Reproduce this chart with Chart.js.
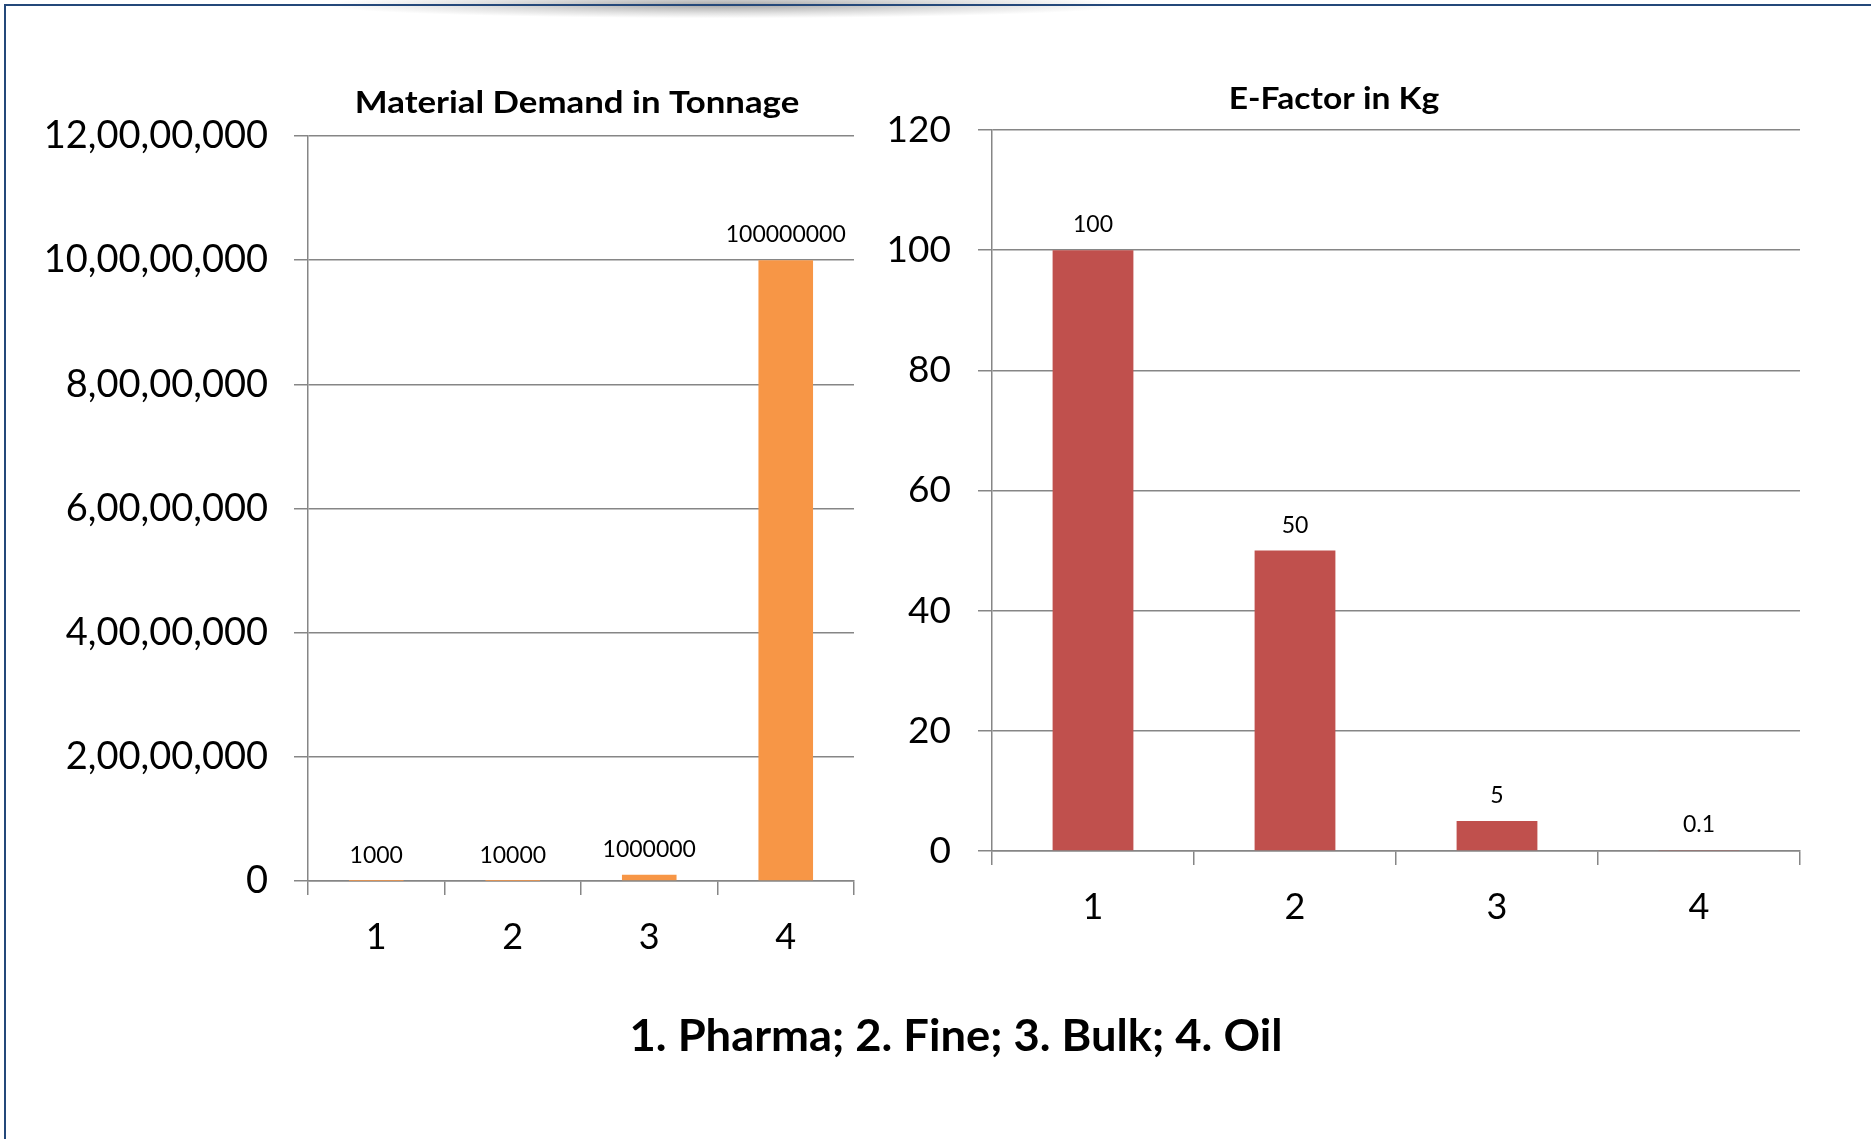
<!DOCTYPE html>
<html>
<head>
<meta charset="utf-8">
<title>Material Demand and E-Factor</title>
<script src="https://cdn.jsdelivr.net/npm/chart.js@4/dist/chart.umd.min.js"></script>
<style>
  html, body { margin: 0; padding: 0; background: #ffffff; }
  body { width: 1871px; height: 1139px; position: relative; overflow: hidden; }
  #shade {
    position: absolute; left: 330px; top: -8px; width: 790px; height: 26px;
    background: radial-gradient(ellipse at 50% 50%, rgba(60,60,60,0.45) 0%, rgba(90,90,90,0.18) 45%, rgba(255,255,255,0) 72%);
  }
  #frame {
    position: absolute; left: 4px; top: 4px; right: 0; bottom: 0;
    border-top: 2px solid #24487a; border-left: 2px solid #24487a;
  }
  canvas { position: absolute; left: 0; top: 0; }
</style>
</head>
<body>
<div id="shade"></div>
<div id="frame"></div>
<canvas id="demand" width="1871" height="1139"></canvas>
<canvas id="efactor" width="1871" height="1139"></canvas>
<script>
// Sectors: 1. Pharma; 2. Fine; 3. Bulk; 4. Oil
const categories = ['1', '2', '3', '4'];

// Material demand in tonnage per sector
const demandTonnage = [1000, 10000, 1000000, 100000000];
// E-factor (kg waste per kg product) per sector
const eFactorKg = [100, 50, 5, 0.1];

// Left axis labels, Indian digit grouping
const demandTickLabels = ['0', '2,00,00,000', '4,00,00,000', '6,00,00,000', '8,00,00,000', '10,00,00,000', '12,00,00,000'];
const eFactorTickLabels = ['0', '20', '40', '60', '80', '100', '120'];

const demandTitle = 'Material Demand in Tonnage';
const eFactorTitle = 'E-Factor in Kg';
const sectorCaption = '1. Pharma; 2. Fine; 3. Bulk; 4. Oil';

const FONT = 'Lato, "Open Sans", sans-serif';
const GRID = '#868686';

// Writes each bar's value above it
const valueLabels = {
  id: 'valueLabels',
  afterDatasetsDraw(chart, args, opts) {
    const ctx = chart.ctx;
    ctx.save();
    ctx.font = opts.size + 'px ' + FONT;
    ctx.fillStyle = '#000';
    ctx.textAlign = 'center';
    ctx.textBaseline = 'alphabetic';
    chart.data.datasets.forEach((ds, di) => {
      chart.getDatasetMeta(di).data.forEach((bar, i) => {
        ctx.fillText(String(ds.data[i]), bar.x, bar.y - opts.gap);
      });
    });
    ctx.restore();
  }
};

// Free-standing headings (chart titles, sector key), optionally widened
const headings = {
  id: 'headings',
  afterDraw(chart, args, opts) {
    const ctx = chart.ctx;
    (opts.items || []).forEach(it => {
      ctx.save();
      ctx.fillStyle = '#000';
      ctx.textAlign = 'center';
      ctx.textBaseline = 'alphabetic';
      ctx.font = 'bold ' + it.size + 'px ' + FONT;
      ctx.translate(it.x, it.y);
      ctx.scale(it.stretch || 1, 1);
      ctx.fillText(it.text, 0, 0);
      ctx.restore();
    });
  }
};

function barChart(id, data, color, max, step, tickLabels, yFontSize, yWidth, padding, labelPad, items) {
  return new Chart(document.getElementById(id), {
    type: 'bar',
    data: {
      labels: categories,
      datasets: [{
        data: data,
        backgroundColor: color,
        borderWidth: 0,
        barPercentage: 0.4,
        categoryPercentage: 1.0
      }]
    },
    plugins: [valueLabels, headings],
    options: {
      responsive: false,
      animation: false,
      devicePixelRatio: 1,
      layout: { padding: padding },
      plugins: {
        legend: { display: false },
        tooltip: { enabled: false },
        title: { display: false },
        valueLabels: { size: 23, gap: 18 },
        headings: { items: items }
      },
      scales: {
        x: {
          offset: true,
          grid: { display: true, offset: true, drawOnChartArea: false, drawTicks: true, tickLength: 14, color: GRID, lineWidth: 1.5 },
          border: { display: true, color: GRID, width: 1.5 },
          ticks: { color: '#000', padding: 21, font: { family: FONT, size: 36 } },
          afterFit(scale) { scale.height = 80; }
        },
        y: {
          min: 0, max: max,
          ticks: {
            stepSize: step, color: '#000', padding: labelPad,
            font: { family: FONT, size: yFontSize },
            callback: (v, i) => tickLabels[i]
          },
          grid: { color: GRID, lineWidth: 1.5, tickLength: 14, drawTicks: true },
          border: { display: true, color: GRID, width: 1.5 },
          afterFit(scale) { scale.width = yWidth; }
        }
      }
    }
  });
}

barChart('demand', demandTonnage, '#F79646', 120000000, 20000000, demandTickLabels, 38, 308,
  { left: 0, top: 136, right: 1017, bottom: 178 }, 26,
  [{ text: demandTitle, x: 577, y: 113, size: 30, stretch: 1.16 }]);

barChart('efactor', eFactorKg, '#C0504D', 120, 20, eFactorTickLabels, 37, 992,
  { left: 0, top: 130, right: 71, bottom: 208 }, 27,
  [{ text: eFactorTitle, x: 1334, y: 109, size: 30, stretch: 1.12 },
   { text: sectorCaption, x: 956, y: 1051, size: 44, stretch: 1.03 }]);
</script>
</body>
</html>
